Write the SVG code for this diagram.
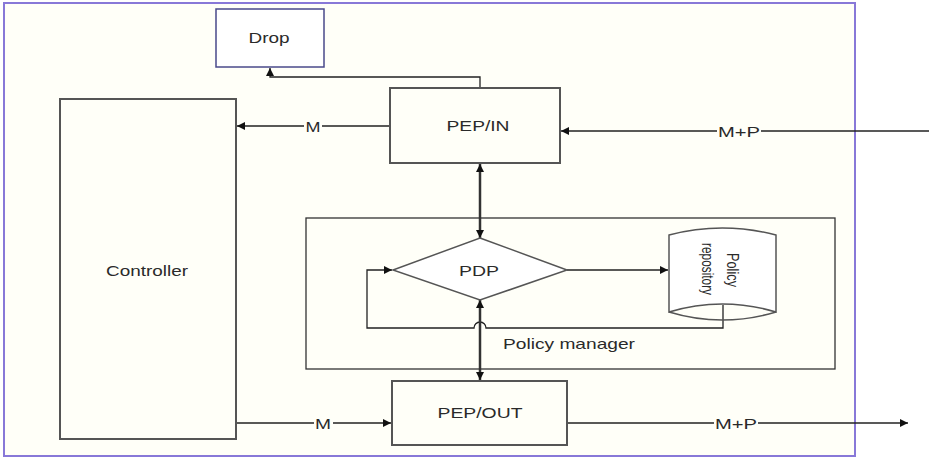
<svg xmlns="http://www.w3.org/2000/svg" width="929" height="459" viewBox="0 0 929 459">
<style>
.box{fill:none;stroke:#555;stroke-width:2}
.ln{fill:none;stroke:#222;stroke-width:1.3}
.thk{fill:none;stroke:#333;stroke-width:2.5}
text{font-family:"Liberation Sans",Arial,sans-serif;font-size:15px;fill:#2a2a2a;text-anchor:middle;dominant-baseline:central}
.rot{font-size:13px}
.lbl{fill:#fffff8}
</style>
<defs>
<marker id="ah" viewBox="0 0 10 10" refX="10" refY="5" markerWidth="10" markerHeight="8" markerUnits="userSpaceOnUse" orient="auto-start-reverse">
<path d="M0,0 L10,5 L0,10 z" fill="#111"/>
</marker>
</defs>
<rect x="0" y="0" width="929" height="459" fill="#fff"/>
<rect id="frame" x="4" y="3" width="851" height="453" fill="#fffff8" stroke="#8878d8" stroke-width="2"/>

<g id="connectors">
<polyline class="ln" points="480,88 480,77 270,77 270,68" marker-end="url(#ah)"/>
<line class="ln" x1="390" y1="126" x2="237" y2="126" marker-end="url(#ah)"/>
<rect class="lbl" x="304" y="119" width="18" height="14"/>
<text x="313" y="126" textLength="15" lengthAdjust="spacingAndGlyphs">M</text>
<line class="ln" x1="929" y1="131" x2="561" y2="131" marker-end="url(#ah)"/>
<rect class="lbl" x="717" y="124" width="44" height="14"/>
<text x="739" y="131" textLength="42" lengthAdjust="spacingAndGlyphs">M+P</text>
<line class="thk" x1="480" y1="164" x2="480" y2="238" marker-start="url(#ah)" marker-end="url(#ah)"/>
<line class="ln" x1="567" y1="270" x2="668" y2="270" marker-end="url(#ah)"/>
<path class="ln" d="M723,313 L723,328 L486,328 A6,6 0 0 0 474,328 L367,328 L367,270 L392,270" marker-end="url(#ah)"/>
<line class="thk" x1="480" y1="300" x2="480" y2="380" marker-start="url(#ah)" marker-end="url(#ah)"/>
<line class="ln" x1="236" y1="423" x2="391" y2="423" marker-end="url(#ah)"/>
<rect class="lbl" x="314" y="416" width="19" height="14"/>
<text x="323" y="423" textLength="16" lengthAdjust="spacingAndGlyphs">M</text>
<line class="ln" x1="567" y1="423" x2="908" y2="423" marker-end="url(#ah)"/>
<rect class="lbl" x="714" y="416" width="44" height="14"/>
<text x="736" y="423" textLength="42" lengthAdjust="spacingAndGlyphs">M+P</text>
</g>

<g id="drop">
<rect x="216" y="9" width="108" height="58" fill="#fff" stroke="#4a4a8a" stroke-width="1.5"/>
<text x="269" y="37" textLength="41" lengthAdjust="spacingAndGlyphs">Drop</text>
</g>
<g id="pep-in">
<rect class="box" x="390" y="88" width="170" height="75"/>
<text x="478" y="125" textLength="63" lengthAdjust="spacingAndGlyphs">PEP/IN</text>
</g>
<g id="controller">
<rect class="box" x="60" y="99" width="176" height="340"/>
<text x="147" y="270" textLength="82" lengthAdjust="spacingAndGlyphs">Controller</text>
</g>
<g id="policy-manager">
<rect x="306" y="218" width="529" height="151" fill="none" stroke="#333" stroke-width="1.3"/>
<text x="569" y="343" textLength="132" lengthAdjust="spacingAndGlyphs">Policy manager</text>
</g>
<g id="pdp">
<polygon points="480,238 567,270 480,300 393,270" fill="#fff" stroke="#555" stroke-width="1.5"/>
<text x="479" y="270" textLength="40" lengthAdjust="spacingAndGlyphs">PDP</text>
</g>
<g id="policy-repository">
<path d="M669,235 Q722,221 776,235 L776,312 Q722,296 669,312 Z" fill="#fff" stroke="#555" stroke-width="1.5"/>
<path d="M669,312 Q722,328 776,312" fill="none" stroke="#555" stroke-width="1.5"/>
<line class="ln" x1="723" y1="305" x2="723" y2="313"/>
<text class="rot" transform="translate(733,270) scale(1.3,1) rotate(90)" textLength="34" lengthAdjust="spacingAndGlyphs">Policy</text>
<text class="rot" transform="translate(708,269) scale(1.3,1) rotate(90)" textLength="52" lengthAdjust="spacingAndGlyphs">repository</text>
</g>
<g id="pep-out">
<rect class="box" x="392" y="381" width="175" height="64"/>
<text x="480" y="412" textLength="85" lengthAdjust="spacingAndGlyphs">PEP/OUT</text>
</g>
</svg>
